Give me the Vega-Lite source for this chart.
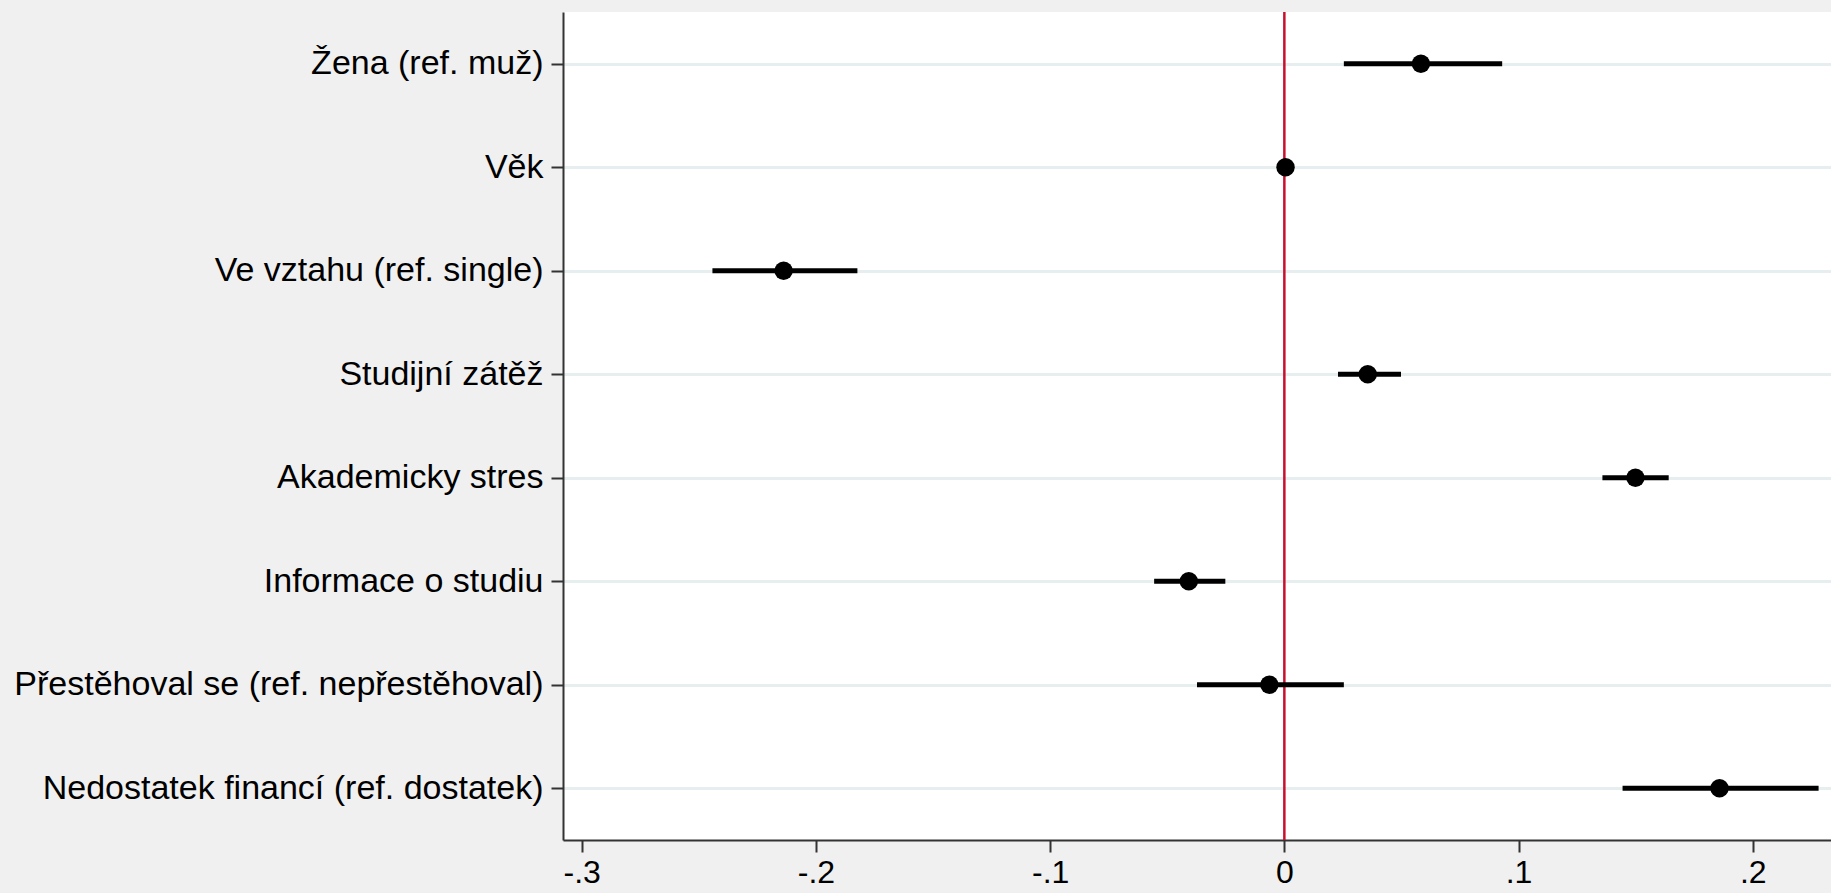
{
  "$schema": "https://vega.github.io/schema/vega-lite/v6.json",
  "width": 1268,
  "height": 828,
  "autosize": "none",
  "padding": {"left": 563, "top": 12, "right": 0, "bottom": 53},
  "background": "#f0f0f0",
  "view": {"fill": "white", "stroke": null},
  "config": {"font": "Liberation Sans"},
  "data": {
    "values": [
      {"var": "Žena (ref. muž)", "est": 0.0583, "lo": 0.0254, "hi": 0.0930},
      {"var": "Věk", "est": 0.0005, "lo": 0.0002, "hi": 0.0008},
      {"var": "Ve vztahu (ref. single)", "est": -0.2138, "lo": -0.2442, "hi": -0.1823},
      {"var": "Studijní zátěž", "est": 0.0356, "lo": 0.0229, "hi": 0.0498},
      {"var": "Akademicky stres", "est": 0.1499, "lo": 0.1358, "hi": 0.1641},
      {"var": "Informace o studiu", "est": -0.0408, "lo": -0.0556, "hi": -0.0252},
      {"var": "Přestěhoval se (ref. nepřestěhoval)", "est": -0.0064, "lo": -0.0373, "hi": 0.0254},
      {"var": "Nedostatek financí (ref. dostatek)", "est": 0.1858, "lo": 0.1444, "hi": 0.2281}
    ]
  },
  "layer": [
    {
      "data": {"values": [{}]},
      "mark": {"type": "rule", "color": "#c8102e", "strokeWidth": 2.5},
      "encoding": {
        "x": {
          "datum": 0,
          "type": "quantitative",
          "scale": {"domain": [-0.308, 0.2334], "nice": false, "zero": false},
          "axis": {
            "title": null,
            "values": [-0.3, -0.2, -0.1, 0, 0.1, 0.2],
            "labelExpr": "datum.value == 0 ? '0' : (datum.value < 0 ? '-' : '') + '.' + format(abs(datum.value) * 10, '.0f')",
            "labelFontSize": 32,
            "labelColor": "#000000",
            "labelPadding": 5,
            "tickSize": 12,
            "tickWidth": 2,
            "tickColor": "#333333",
            "domainColor": "#333333",
            "domainWidth": 2,
            "grid": false
          }
        }
      }
    },
    {
      "mark": {"type": "rule", "color": "#000000", "strokeWidth": 5, "strokeCap": "butt"},
      "encoding": {
        "y": {
          "field": "var",
          "type": "nominal",
          "sort": null,
          "scale": {"type": "point", "padding": 0.5},
          "axis": {
            "title": null,
            "labelFontSize": 34,
            "labelColor": "#000000",
            "labelPadding": 8,
            "labelLimit": 0,
            "tickSize": 12,
            "tickWidth": 2,
            "tickColor": "#333333",
            "domainColor": "#333333",
            "domainWidth": 2,
            "grid": true,
            "gridColor": "#e6eef0",
            "gridWidth": 3
          }
        },
        "x": {
          "field": "lo",
          "type": "quantitative",
          "scale": {"domain": [-0.308, 0.2334], "nice": false, "zero": false},
          "axis": {
            "title": null,
            "values": [-0.3, -0.2, -0.1, 0, 0.1, 0.2],
            "labelExpr": "datum.value == 0 ? '0' : (datum.value < 0 ? '-' : '') + '.' + format(abs(datum.value) * 10, '.0f')",
            "labelFontSize": 32,
            "labelColor": "#000000",
            "labelPadding": 5,
            "tickSize": 12,
            "tickWidth": 2,
            "tickColor": "#333333",
            "domainColor": "#333333",
            "domainWidth": 2,
            "grid": false
          }
        },
        "x2": {"field": "hi"}
      }
    },
    {
      "mark": {"type": "circle", "color": "#000000", "size": 340, "opacity": 1},
      "encoding": {
        "y": {"field": "var", "type": "nominal", "sort": null},
        "x": {"field": "est", "type": "quantitative"}
      }
    }
  ]
}
